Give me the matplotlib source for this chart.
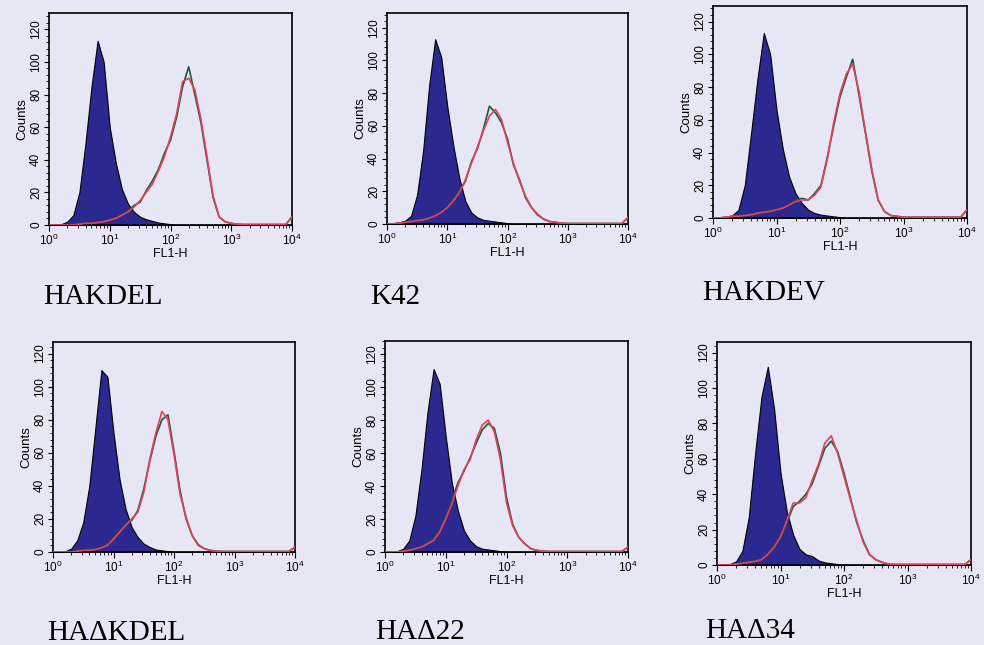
import numpy as np
import matplotlib
matplotlib.use("Agg")
import matplotlib.pyplot as plt
from matplotlib.ticker import MultipleLocator, LogLocator, NullFormatter

plt.rcParams.update({
    "font.family": ["Liberation Sans", "DejaVu Sans"],
    "font.size": 8,
    "axes.linewidth": 1.2,
    "xtick.direction": "out",
    "ytick.direction": "out",
    "xtick.major.size": 4,
    "xtick.minor.size": 2.5,
    "ytick.major.size": 3.5,
    "ytick.minor.size": 2.5,
    "xtick.major.pad": 1.5,
    "ytick.major.pad": 1.5,
    "mathtext.default": "regular",
})

bg = "#e7e6f4"
navy = "#2b2890"
red = "#e2405e"
green = "#1f5a3a"

# FL1-H channel positions, log10 from 0 to 4 in steps of 0.1
log_fl1 = np.round(np.arange(0, 4.01, 0.1), 1)

names = ["HAKDEL", "K42", "HAKDEV", "HA\u0394KDEL", "HA\u039422", "HA\u039434"]
ymax = [130, 129, 129.5, 127, 128, 126]

# control (filled) histograms
hakdel_ctrl = [0, 0, 0.5, 2, 6, 20, 50, 85, 113, 100, 60, 38, 22, 13, 8, 5, 3.5, 2.5, 1.5, 1, 0.5,
               0, 0, 0, 0, 0, 0, 0, 0, 0, 0, 0, 0, 0, 0, 0, 0, 0, 0, 0, 0]
k42_ctrl = [0, 0.5, 1, 2, 5, 18, 45, 85, 113, 102, 72, 48, 28, 14, 7, 4, 2.5, 2, 1.5, 1, 0.5,
            0, 0, 0, 0, 0, 0, 0, 0, 0, 0, 0, 0, 0, 0, 0, 0, 0, 0, 0, 0]
hakdev_ctrl = [0, 0, 0.5, 1.5, 5, 20, 52, 85, 113, 100, 66, 42, 25, 15, 9, 5, 3, 2, 1.5, 1, 0.5,
               0, 0, 0, 0, 0, 0, 0, 0, 0, 0, 0, 0, 0, 0, 0, 0, 0, 0, 0, 0]
hadkdel_ctrl = [0, 0, 0.5, 2, 7, 18, 40, 75, 110, 106, 72, 44, 26, 15, 9, 5, 3, 1.5, 1, 0.5,
                0, 0, 0, 0, 0, 0, 0, 0, 0, 0, 0, 0, 0, 0, 0, 0, 0, 0, 0, 0, 0]
had22_ctrl = [0, 0, 0.5, 2, 7, 22, 50, 85, 111, 102, 70, 42, 25, 13, 7, 3.5, 2, 1.5, 1, 0.5,
              0, 0, 0, 0, 0, 0, 0, 0, 0, 0, 0, 0, 0, 0, 0, 0, 0, 0, 0, 0, 0]
had34_ctrl = [0, 0, 0.5, 2, 8, 27, 63, 95, 112, 88, 52, 30, 17, 9, 6, 5, 2.5, 1.5, 1, 0.5,
              0, 0, 0, 0, 0, 0, 0, 0, 0, 0, 0, 0, 0, 0, 0, 0, 0, 0, 0, 0, 0]

# stained sample, first run (red)
hakdel_a = [0, 0, 0, 0, 0, 0.5, 1, 1, 1.5, 2, 3, 4, 6, 8, 11, 15, 20, 25, 33, 42, 54, 68, 88, 90,
            83, 65, 42, 18, 5, 2, 1, 0.5, 0.3, 0.3, 0.3, 0.3, 0.3, 0.3, 0.3, 0.3, 5]
k42_a = [0, 0, 0.5, 1, 1.5, 2, 2.5, 3.5, 5, 7, 10, 14, 19, 27, 37, 47, 57, 66, 70, 64, 50, 37, 26,
         17, 10, 6, 3, 1.5, 1, 0.5, 0.3, 0.3, 0.3, 0.3, 0.3, 0.3, 0.3, 0.3, 0.3, 0.3, 4]
hakdev_a = [0, 0, 0.5, 1, 1, 1.5, 2, 3, 3.5, 4, 5, 6, 8, 10, 11, 11, 14, 19, 36, 58, 76, 88, 94,
            77, 53, 30, 11, 4, 1.5, 1, 0.5, 0.5, 0.5, 0.5, 0.5, 0.5, 0.5, 0.5, 0.5, 0.5, 5]
hadkdel_a = [0, 0, 0, 0, 0.5, 1, 1, 1.5, 2.5, 4, 8, 12, 16, 20, 24, 36, 56, 72, 85, 80, 59, 35,
             21, 10, 4, 2, 1, 0.5, 0.3, 0.3, 0.3, 0.3, 0.3, 0.3, 0.3, 0.3, 0.3, 0.3, 0.3, 0.3, 3]
had22_a = [0, 0, 0, 0.5, 1, 2, 3, 5, 7, 12, 20, 29, 40, 50, 56, 68, 77, 80, 73, 56, 30, 16, 9, 5,
           2, 1, 0.5, 0.3, 0.3, 0.3, 0.3, 0.3, 0.3, 0.3, 0.3, 0.3, 0.3, 0.3, 0.3, 0.3, 3]
had34_a = [0, 0, 0, 0.5, 1, 1.5, 2, 3, 6, 10, 16, 25, 35, 35, 38, 48, 57, 69, 73, 63, 50, 37, 25,
           13, 6, 3, 1.5, 0.5, 0.3, 0.3, 0.3, 0.3, 0.3, 0.3, 0.3, 0.3, 0.3, 0.3, 0.3, 0.3, 3]

# stained sample, second run (green)
hakdel_b = [0, 0, 0, 0, 0, 0.5, 1, 1.5, 1.5, 2.5, 3, 4.5, 6, 8.5, 12, 14, 21, 27, 34, 44, 52, 66,
            85, 97, 80, 63, 40, 17, 5, 2, 1, 0.5, 0.3, 0.3, 0.3, 0.3, 0.3, 0.3, 0.3, 0.3, 5]
k42_b = [0, 0, 0.5, 1, 1.5, 2.5, 2.5, 4, 5, 7.5, 10, 15, 20, 26, 38, 46, 58, 72, 68, 62, 52, 36,
         27, 16, 10, 5.5, 3, 1.5, 1, 0.5, 0.3, 0.3, 0.3, 0.3, 0.3, 0.3, 0.3, 0.3, 0.3, 0.3, 4]
hakdev_b = [0, 0, 0.5, 1, 1.5, 1.5, 2, 2.5, 3.5, 4.5, 5, 6.5, 8, 11, 12, 11, 15, 20, 37, 56, 74,
            86, 97, 75, 52, 29, 11, 4, 1.5, 1, 0.5, 0.5, 0.5, 0.5, 0.5, 0.5, 0.5, 0.5, 0.5, 0.5, 5]
hadkdel_b = [0, 0, 0, 0, 0.5, 1, 1.5, 1.5, 2.5, 4.5, 7, 12, 17, 19, 25, 38, 55, 70, 80, 83, 61,
             37, 20, 10, 4.5, 2, 1, 0.5, 0.3, 0.3, 0.3, 0.3, 0.3, 0.3, 0.3, 0.3, 0.3, 0.3, 0.3, 0.3, 3]
had22_b = [0, 0, 0, 0.5, 1, 2, 3.5, 5, 8, 13, 21, 31, 42, 49, 57, 66, 74, 78, 75, 60, 33, 17, 9,
           5, 2, 1, 0.5, 0.3, 0.3, 0.3, 0.3, 0.3, 0.3, 0.3, 0.3, 0.3, 0.3, 0.3, 0.3, 0.3, 3]
had34_b = [0, 0, 0, 0.5, 1, 1.5, 2.5, 3, 6.5, 11, 15, 24, 33, 36, 40, 46, 56, 66, 70, 64, 52, 38,
           24, 14, 6, 3, 1.5, 0.5, 0.3, 0.3, 0.3, 0.3, 0.3, 0.3, 0.3, 0.3, 0.3, 0.3, 0.3, 0.3, 3]

ctrl = [hakdel_ctrl, k42_ctrl, hakdev_ctrl, hadkdel_ctrl, had22_ctrl, had34_ctrl]
run_a = [hakdel_a, k42_a, hakdev_a, hadkdel_a, had22_a, had34_a]
run_b = [hakdel_b, k42_b, hakdev_b, hadkdel_b, had22_b, had34_b]

# axes boxes in pixels: left, right, top, bottom
boxes = [(49, 292, 13, 225), (387, 628, 13, 224), (713, 967, 6, 218),
         (53, 295, 342, 552), (385, 628, 341, 552), (717, 971, 342, 565)]
label_pos = [(43, 297), (370, 297), (702, 293), (47, 633), (375, 632), (705, 631)]

W, H = 984, 645
fig = plt.figure(figsize=(W / 100, H / 100), dpi=100, facecolor=bg)

x = 10 ** log_fl1
for i in range(6):
    l, r, t, b = boxes[i]
    ax = fig.add_axes([l / W, 1 - b / H, (r - l) / W, (b - t) / H])
    ax.set_facecolor(bg)
    ax.fill_between(x, ctrl[i], color=navy, edgecolor="black", lw=0.8, zorder=2)
    ax.plot(x, run_b[i], color=green, lw=1.2, zorder=3)
    ax.plot(x, run_a[i], color=red, lw=1.2, zorder=4)
    ax.set_xscale("log")
    ax.set_xlim(1, 1e4)
    ax.set_ylim(0, ymax[i])
    ax.xaxis.set_major_locator(LogLocator(base=10, numticks=10))
    ax.xaxis.set_minor_locator(LogLocator(base=10, subs=np.arange(2, 10), numticks=10))
    ax.xaxis.set_minor_formatter(NullFormatter())
    ax.yaxis.set_major_locator(MultipleLocator(20))
    ax.yaxis.set_minor_locator(MultipleLocator(4))
    ax.set_yticks(range(0, 121, 20))
    for lab in ax.get_yticklabels():
        lab.set_rotation(90)
        lab.set_va("center")
    ax.tick_params(labelsize=8.5)
    ax.set_xlabel("FL1-H", fontsize=9, labelpad=0)
    ax.set_ylabel("Counts", fontsize=9.5, labelpad=1)
    fig.text(label_pos[i][0] / W, 1 - label_pos[i][1] / H, names[i],
             family=["Liberation Serif", "DejaVu Serif"], fontsize=21, va="center", ha="left")

fig.savefig("out.png", dpi=100, facecolor=bg)
